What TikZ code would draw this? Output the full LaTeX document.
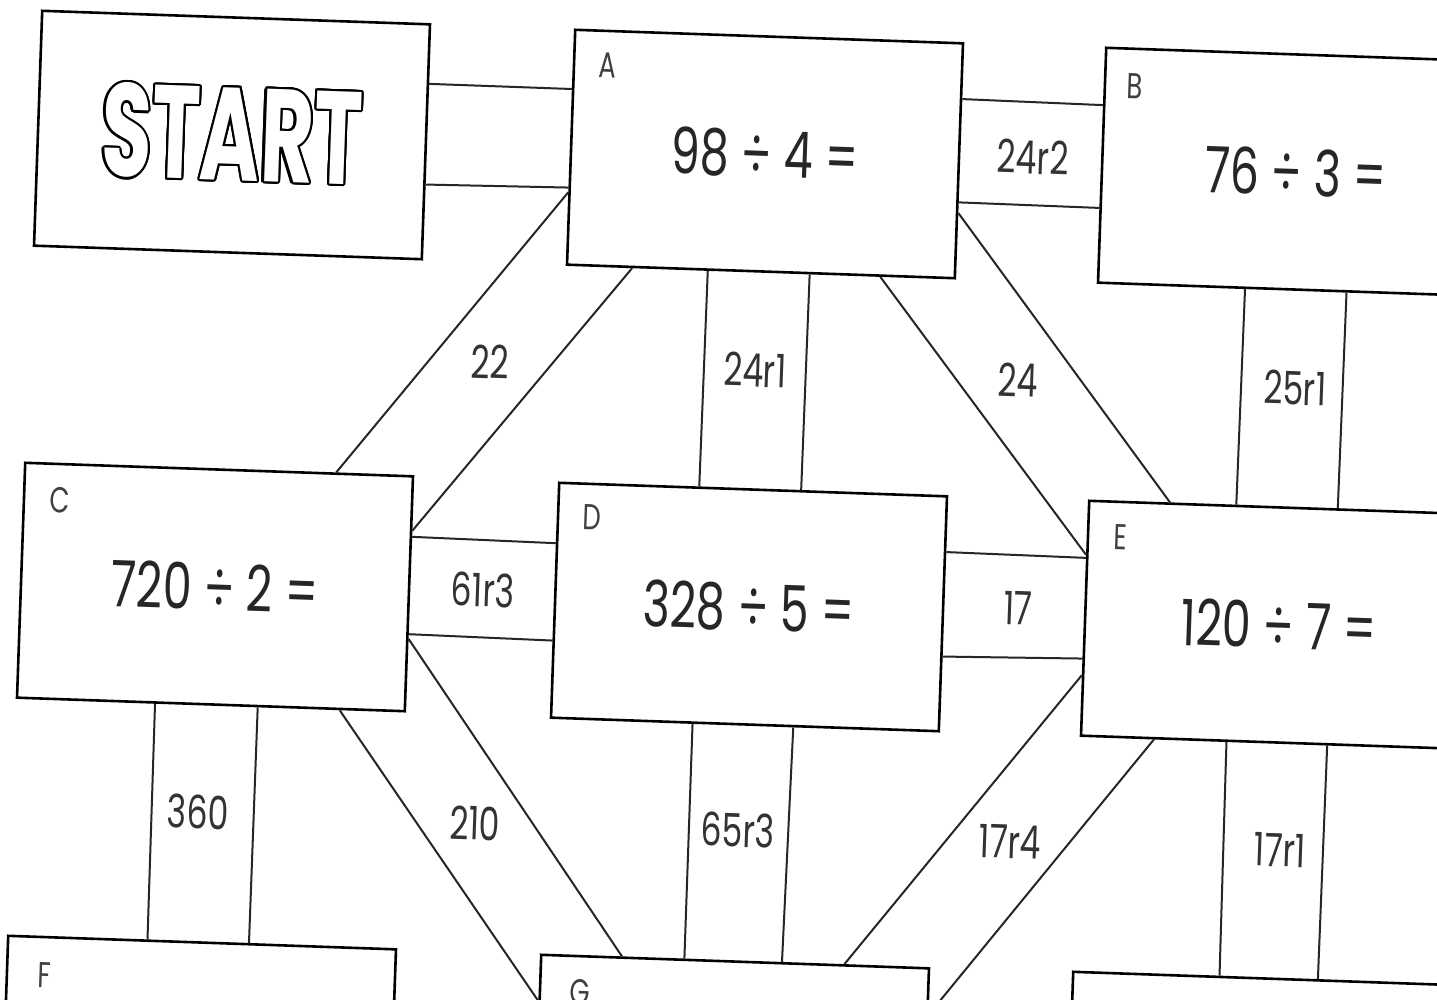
\documentclass[tikz,border=0pt]{standalone}
\usepackage{fontspec}
\setmainfont{Poppins}[FakeStretch=0.72]
\newfontfamily\startfont{Poppins}[FakeStretch=0.62]
\usepackage{contour}
\contourlength{2.2pt}
\usetikzlibrary{calc}
\tikzset{
  box/.style={draw=black, line width=2.6pt, fill=white, rectangle, minimum width=388pt,
    minimum height=235pt, rotate=-2, inner sep=0pt, text=black!85,
    font=\fontsize{64}{64}\selectfont},
  conn/.style={draw=black!85, line width=2pt},
  lab/.style={font=\fontsize{46}{46}\selectfont, rotate=-2, text=black!80, inner sep=0pt},
  letter/.style={font=\fontsize{36}{36}\selectfont, rotate=-2, text=black!75, inner sep=0pt},
}
\begin{document}
\begin{tikzpicture}[x=1pt,y=-1pt]
\useasboundingbox (0,0) rectangle (1437,999);
\fill[white] (0,0) rectangle (1437,999);
\clip (0,0) rectangle (1437,999);
% boxes
\node[box] (S) at (232,135) {\startfont\fontsize{132}{132}\selectfont\bfseries\textcolor{white}{\contour{black}{START}}};
\node[box] (A) at (765,154) {98 ÷ 4 =};
\node[box] (B) at (1296,172) {76 ÷ 3 =};
\node[box] (C) at (215,587) {720 ÷ 2 =};
\node[box] (D) at (749,607) {328 ÷ 5 =};
\node[box] (E) at (1279,625) {120 ÷ 7 =};
\node[box] (F) at (198,1060) {};
\node[box] (G) at (731,1079) {};
\node[box] (H) at (1263,1096) {};
% box letters
\node[letter] (lA) at (608,65) {A};
\node[letter] (lB) at (1135,86) {B};
\node[letter] (lC) at (60,500) {C};
\node[letter] (lD) at (592,517) {D};
\node[letter] (lE) at (1121,537) {E};
\node[letter] (lF) at (44,975) {F};
\node[letter] (lG) at (580,992) {G};
% connectors
\draw[conn] ($(S.north east)!0.256!(S.south east)$) -- ($(A.north west)!0.255!(A.south west)$);
\draw[conn] ($(S.north east)!0.68!(S.south east)$) -- ($(A.north west)!0.67!(A.south west)$);
\draw[conn] ($(A.north east)!0.24!(A.south east)$) -- ($(B.north west)!0.247!(B.south west)$);
\draw[conn] ($(A.north east)!0.675!(A.south east)$) -- ($(B.north west)!0.68!(B.south west)$);
\draw[conn] ($(A.north west)!0.69!(A.south west)$) -- ($(C.north west)!0.80!(C.north east)$);
\draw[conn] ($(A.south west)!0.17!(A.south east)$) -- ($(C.north east)!0.234!(C.south east)$);
\draw[conn] ($(A.south west)!0.364!(A.south east)$) -- ($(D.north west)!0.362!(D.north east)$);
\draw[conn] ($(A.south west)!0.625!(A.south east)$) -- ($(D.north west)!0.623!(D.north east)$);
\draw[conn] ($(A.north east)!0.72!(A.south east)$) -- ($(E.north west)!0.21!(E.north east)$);
\draw[conn] ($(A.south west)!0.806!(A.south east)$) -- ($(E.north west)!0.233!(E.south west)$);
\draw[conn] ($(B.south west)!0.38!(B.south east)$) -- ($(E.north west)!0.38!(E.north east)$);
\draw[conn] ($(B.south west)!0.64!(B.south east)$) -- ($(E.north west)!0.64!(E.north east)$);
\draw[conn] ($(C.north east)!0.26!(C.south east)$) -- ($(D.north west)!0.26!(D.south west)$);
\draw[conn] ($(C.north east)!0.67!(C.south east)$) -- ($(D.north west)!0.67!(D.south west)$);
\draw[conn] ($(D.north east)!0.24!(D.south east)$) -- ($(E.north west)!0.246!(E.south west)$);
\draw[conn] ($(D.north east)!0.68!(D.south east)$) -- ($(E.north west)!0.67!(E.south west)$);
\draw[conn] ($(C.south west)!0.357!(C.south east)$) -- ($(F.north west)!0.36!(F.north east)$);
\draw[conn] ($(C.south west)!0.62!(C.south east)$) -- ($(F.north west)!0.62!(F.north east)$);
\draw[conn] ($(C.south west)!0.83!(C.south east)$) -- ($(G.north west)!0.2!(G.south west)$);
\draw[conn] ($(C.north east)!0.69!(C.south east)$) -- ($(G.north west)!0.21!(G.north east)$);
\draw[conn] ($(D.south west)!0.366!(D.south east)$) -- ($(G.north west)!0.37!(G.north east)$);
\draw[conn] ($(D.south west)!0.624!(D.south east)$) -- ($(G.north west)!0.62!(G.north east)$);
\draw[conn] ($(E.north west)!0.74!(E.south west)$) -- ($(G.north west)!0.78!(G.north east)$);
\draw[conn] ($(E.south west)!0.19!(E.south east)$) -- ($(G.north east)!0.2!(G.south east)$);
\draw[conn] ($(E.south west)!0.376!(E.south east)$) -- ($(H.north west)!0.378!(H.north east)$);
\draw[conn] ($(E.south west)!0.634!(E.south east)$) -- ($(H.north west)!0.63!(H.north east)$);
% connector labels
\node[lab] (tAB) at (1033,157) {24r2};
\node[lab] (tAC) at (490,362) {22};
\node[lab] (tAD) at (755,370) {24r1};
\node[lab] (tAE) at (1018,380) {24};
\node[lab] (tBE) at (1295,388) {25r1};
\node[lab] (tCD) at (483,590) {61r3};
\node[lab] (tDE) at (1018,608) {17};
\node[lab] (tCF) at (198,812) {360};
\node[lab] (tCG) at (475,823) {210};
\node[lab] (tDG) at (738,830) {65r3};
\node[lab] (tEG) at (1010,842) {17r4};
\node[lab] (tEH) at (1280,850) {17r1};
\end{tikzpicture}
\end{document}
